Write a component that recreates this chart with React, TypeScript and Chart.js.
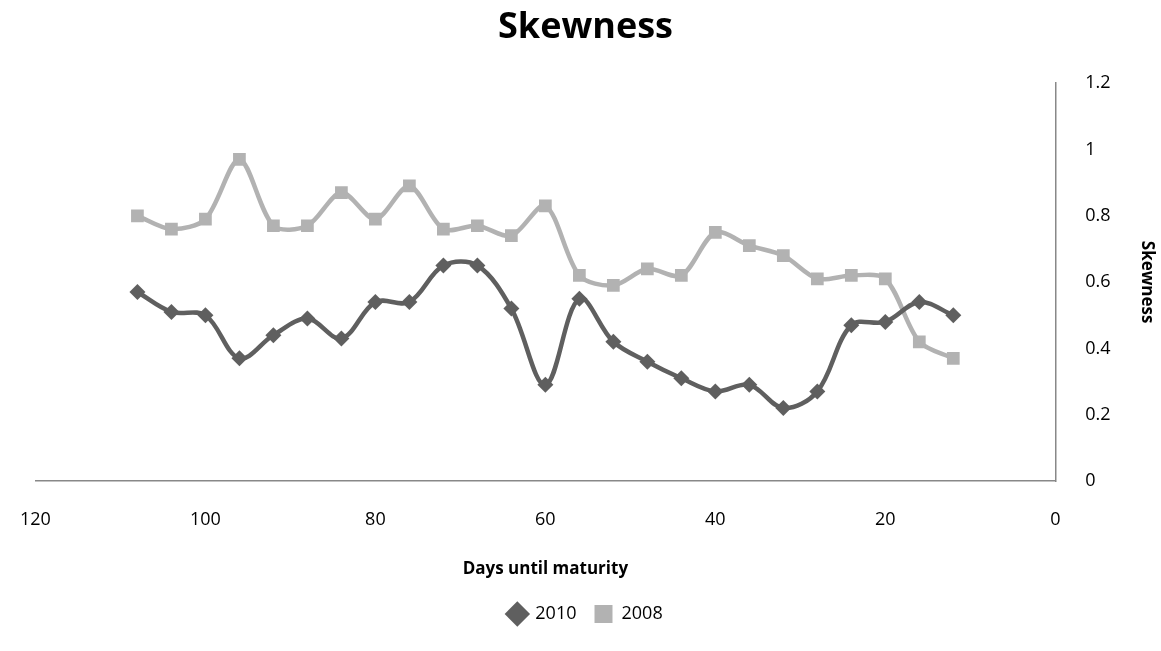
import React, { useEffect, useRef } from 'react';
import Chart from 'chart.js/auto';

const days = [108, 104, 100, 96, 92, 88, 84, 80, 76, 72, 68, 64, 60, 56, 52, 48, 44, 40, 36, 32, 28, 24, 20, 16, 12];
const skew2010 = [0.57, 0.51, 0.5, 0.37, 0.44, 0.49, 0.43, 0.54, 0.54, 0.65, 0.65, 0.52, 0.29, 0.55, 0.42, 0.36, 0.31, 0.27, 0.29, 0.22, 0.27, 0.47, 0.48, 0.54, 0.5];
const skew2008 = [0.8, 0.76, 0.79, 0.97, 0.77, 0.77, 0.87, 0.79, 0.89, 0.76, 0.77, 0.74, 0.83, 0.62, 0.59, 0.64, 0.62, 0.75, 0.71, 0.68, 0.61, 0.62, 0.61, 0.42, 0.37];

const FONT = '"Open Sans", "Liberation Sans", sans-serif';

const App = () => {
  const canvasRef = useRef<HTMLCanvasElement | null>(null);

  useEffect(() => {
    if (!canvasRef.current) return;
    const toPts = (ys: number[]) => days.map((d, i) => ({ x: d, y: ys[i] }));
    const chart = new Chart(canvasRef.current, {
      type: 'line',
      data: {
        datasets: [
          {
            label: '2010',
            data: toPts(skew2010),
            borderColor: '#5f5f5f',
            backgroundColor: '#5f5f5f',
            borderWidth: 4.5,
            pointStyle: 'rectRot',
            pointRadius: 8,
            pointBorderWidth: 0,
            tension: 0.35,
          },
          {
            label: '2008',
            data: toPts(skew2008),
            borderColor: '#b2b2b2',
            backgroundColor: '#b2b2b2',
            borderWidth: 4.5,
            pointStyle: 'rect',
            pointRadius: 9,
            pointBorderWidth: 0,
            tension: 0.3,
          },
        ],
      },
      options: {
        animation: false,
        responsive: false,
        layout: { padding: { left: 10, right: 0, top: 0, bottom: 18 } },
        plugins: {
          title: {
            display: true,
            text: 'Skewness',
            font: { family: FONT, size: 36, weight: 'bold' },
            color: '#000',
            padding: { top: 6, bottom: 34 },
          },
          legend: {
            position: 'bottom',
            labels: {
              usePointStyle: true,
              font: { family: FONT, size: 18 },
              color: '#000',
              padding: 18,
            },
          },
          tooltip: { enabled: false },
        },
        scales: {
          x: {
            type: 'linear',
            reverse: true,
            min: 0,
            max: 120,
            ticks: { stepSize: 20, font: { family: FONT, size: 18 }, color: '#000', padding: 20 },
            grid: { display: false },
            border: { display: true, color: '#888', width: 1.5 },
            title: {
              display: true,
              text: 'Days until maturity',
              font: { family: FONT, size: 17, weight: 'bold' },
              color: '#000',
              padding: { top: 8, bottom: 8 },
            },
          },
          y: {
            position: 'right',
            min: 0,
            max: 1.2,
            ticks: {
              stepSize: 0.2,
              font: { family: FONT, size: 18 },
              color: '#000',
              padding: 22,
              callback: (v: any) => String(Math.round(Number(v) * 10) / 10),
            },
            grid: { display: false },
            border: { display: true, color: '#888', width: 1.5 },
            title: {
              display: true,
              text: 'Skewness',
              font: { family: FONT, size: 17, weight: 'bold' },
              color: '#000',
              padding: 4,
            },
          },
        },
      },
    });
    return () => chart.destroy();
  }, []);

  return (
    <div style={{ position: 'absolute', left: 0, top: 0, width: 1161, height: 651, background: '#fff' }}>
      <canvas ref={canvasRef} width={1161} height={651} />
    </div>
  );
};

export default App;
